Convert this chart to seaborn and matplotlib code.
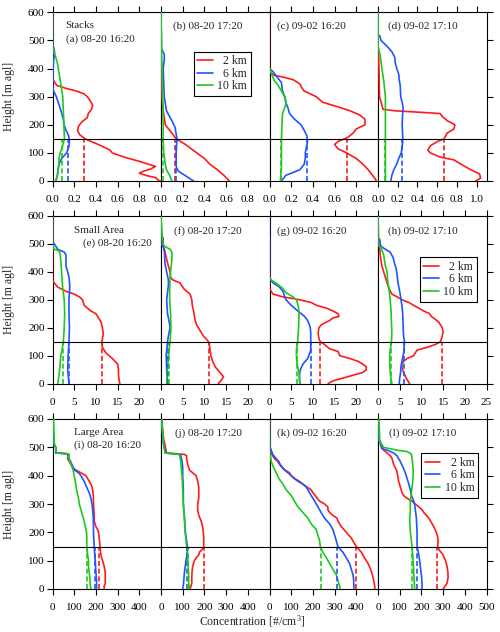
import matplotlib
matplotlib.use("Agg")
import matplotlib.pyplot as plt
from matplotlib.lines import Line2D
import pandas as pd
import seaborn as sns

# profiles: (height [m], concentration)
a_2km = [(600, 0), (365, 0), (350, 0.02), (340, 0.04), (330, 0.12), (320, 0.22), (310, 0.29), (300, 0.32),
         (290, 0.34), (270, 0.37), (255, 0.36), (240, 0.33), (225, 0.32), (210, 0.27), (195, 0.24), (180, 0.23),
         (165, 0.25), (150, 0.30), (140, 0.36), (125, 0.45), (110, 0.53), (100, 0.55), (85, 0.66), (70, 0.80),
         (60, 0.88), (52, 0.95), (42, 0.90), (35, 0.84), (28, 0.80), (20, 0.86), (12, 0.95), (5, 0.97), (0, 0.99)]
a_6km = [(600, 0), (490, 0), (475, 0.01), (455, 0.02), (430, 0.01), (390, 0.005), (340, 0), (320, 0.01),
         (300, 0.035), (260, 0.07), (220, 0.10), (200, 0.105), (180, 0.125), (160, 0.15), (140, 0.155),
         (120, 0.15), (100, 0.13), (80, 0.085), (60, 0.06), (40, 0.05), (20, 0.045), (0, 0.03)]
a_10km = [(600, 0), (480, 0), (460, 0.01), (440, 0.03), (420, 0.045), (400, 0.053), (350, 0.075), (300, 0.094),
          (250, 0.10), (200, 0.105), (150, 0.11), (120, 0.09), (100, 0.07), (80, 0.06), (50, 0.057), (20, 0.045),
          (0, 0.03)]
a_mean = [0.29, 0.14, 0.09]

b_2km = [(600, 0), (430, 0), (400, 0.005), (300, 0.01), (250, 0.02), (200, 0.04), (170, 0.10), (150, 0.14),
         (130, 0.225), (120, 0.26), (100, 0.33), (80, 0.40), (60, 0.45), (40, 0.52), (20, 0.58), (0, 0.63)]
b_6km = [(600, 0), (470, 0.005), (450, 0.03), (430, 0.03), (400, 0.02), (350, 0.025), (300, 0.03), (250, 0.05),
         (215, 0.10), (190, 0.13), (150, 0.147), (100, 0.14), (50, 0.14), (35, 0.16), (20, 0.22), (0, 0.30)]
b_10km = [(600, 0), (450, 0.005), (400, 0.01), (300, 0.015), (200, 0.02), (150, 0.02), (100, 0.025), (60, 0.04),
          (40, 0.05), (20, 0.08), (0, 0.10)]
b_mean = [0.13, 0.14, 0.02]

c_2km = [(600, 0), (395, 0), (385, 0.01), (375, 0.05), (370, 0.12), (360, 0.22), (345, 0.28), (330, 0.30),
         (320, 0.32), (300, 0.43), (280, 0.49), (265, 0.62), (250, 0.74), (235, 0.83), (220, 0.88), (200, 0.88),
         (185, 0.80), (170, 0.77), (155, 0.72), (140, 0.63), (130, 0.60), (115, 0.63), (100, 0.71), (80, 0.80),
         (60, 0.86), (40, 0.91), (20, 0.95), (5, 0.98), (0, 0.98)]
c_6km = [(400, 0), (390, 0.03), (375, 0.06), (350, 0.11), (320, 0.12), (300, 0.14), (280, 0.15),
         (260, 0.17), (240, 0.185), (220, 0.23), (200, 0.29), (180, 0.32), (160, 0.345), (140, 0.35), (120, 0.34),
         (100, 0.33), (80, 0.33), (60, 0.32), (40, 0.28), (20, 0.15), (0, 0.11)]
c_10km = [(400, 0), (380, 0.02), (360, 0.04), (340, 0.08), (320, 0.11), (300, 0.14), (280, 0.155),
          (260, 0.14), (240, 0.12), (200, 0.115), (150, 0.11), (100, 0.11), (50, 0.11), (0, 0.10)]
c_mean = [0.71, 0.35, 0.11]

d_2km = [(600, 0), (480, 0), (460, 0.005), (400, 0.01), (300, 0.015), (270, 0.04), (255, 0.05), (250, 0.16),
         (245, 0.40), (240, 0.63), (230, 0.65), (215, 0.70), (200, 0.78), (185, 0.77), (170, 0.70), (150, 0.67),
         (140, 0.60), (125, 0.53), (110, 0.505), (100, 0.53), (85, 0.63), (75, 0.77), (60, 0.84), (40, 0.94),
         (25, 1.03), (10, 1.04), (0, 0.99)]
d_6km = [(600, 0), (520, 0), (515, 0.02), (500, 0.03), (490, 0.06), (480, 0.09), (460, 0.14), (440, 0.17),
         (420, 0.175), (400, 0.19), (380, 0.21), (360, 0.215), (340, 0.225), (300, 0.23), (280, 0.245),
         (260, 0.255), (240, 0.25), (200, 0.245), (160, 0.25), (140, 0.25), (120, 0.245), (100, 0.235),
         (80, 0.21), (60, 0.19), (40, 0.16), (20, 0.14), (0, 0.13)]
d_10km = [(600, 0), (480, 0), (450, 0.02), (400, 0.04), (350, 0.06), (300, 0.075), (250, 0.075), (150, 0.075),
          (50, 0.075), (0, 0.075)]
d_mean = [0.67, 0.245, 0.075]

e_2km = [(600, 0), (370, 0), (360, 0.4), (345, 1.2), (330, 3.1), (320, 5.0), (310, 6.2), (300, 6.9), (280, 7.3),
         (260, 8.8), (250, 10.0), (240, 10.4), (220, 11.2), (200, 11.5), (180, 11.7), (160, 11.5), (150, 11.4),
         (130, 11.5), (110, 12.3), (90, 13.8), (70, 15.0), (50, 15.2), (30, 15.2), (10, 15.4), (0, 15.5)]
e_6km = [(600, 0), (505, 0), (500, 0.4), (480, 1.2), (470, 2.7), (460, 3.1), (420, 3.1), (400, 3.5), (380, 3.8),
         (350, 4.0), (300, 3.8), (250, 3.8), (200, 3.9), (150, 3.8), (100, 3.6), (50, 3.5), (0, 3.8)]
e_10km = [(600, 0), (500, 0), (480, 0.4), (475, 1.5), (460, 1.8), (400, 2.1), (350, 2.3), (300, 2.7), (250, 2.8),
          (200, 2.7), (150, 2.5), (120, 2.2), (100, 1.9), (60, 1.7), (30, 1.5), (0, 1.2)]
e_mean = [11.4, 3.8, 2.5]

f_2km = [(600, 0), (530, 0), (520, 0.5), (490, 0.5), (480, 0.8), (450, 1.2), (420, 1.7), (400, 2.1), (380, 2.2),
         (370, 2.8), (360, 4.4), (350, 4.8), (340, 5.2), (320, 6.7), (300, 7.1), (280, 7.2), (260, 7.5),
         (230, 7.8), (210, 8.2), (190, 9.0), (170, 9.8), (155, 10.7), (145, 11.1), (120, 11.3), (100, 11.5),
         (80, 11.9), (60, 12.5), (40, 13.6), (25, 14.4), (15, 14.0), (0, 13.2)]
f_6km = [(600, 0), (500, 0), (490, 0.5), (470, 0.8), (430, 0.9), (400, 1.3), (370, 1.7), (350, 1.7), (300, 1.3),
         (250, 1.5), (220, 1.9), (200, 2.1), (170, 1.7), (150, 1.5), (100, 1.2), (50, 1.3), (0, 1.5)]
f_10km = [(600, 0), (500, 0.4), (490, 0.9), (480, 2.1), (470, 2.5), (440, 2.5), (400, 2.2), (350, 2.0),
          (300, 2.0), (250, 2.2), (200, 2.3), (150, 2.1), (100, 1.7), (50, 1.5), (0, 1.3)]
f_mean = [11.0, 1.5, 1.9]

g_2km = [(520, 0), (340, 0), (330, 0.4), (320, 0.8), (310, 3.1), (300, 6.9), (290, 9.6), (280, 10.8),
         (270, 13.1), (260, 14.6), (250, 15.8), (240, 16.0), (235, 14.6), (225, 13.8), (220, 13.1), (210, 11.9),
         (200, 11.4), (180, 11.2), (160, 11.4), (150, 11.7), (140, 12.7), (125, 13.8), (115, 15.8), (100, 16.2),
         (90, 18.5), (80, 20.4), (70, 21.5), (60, 22.3), (50, 22.3), (40, 21.5), (30, 19.2), (20, 16.9),
         (10, 14.6), (0, 13.5)]
g_6km = [(600, 0), (520, 0), (380, 0), (360, 0.8), (345, 2.3), (330, 3.1), (310, 3.5), (300, 3.8), (280, 5.0),
         (260, 6.5), (240, 8.1), (225, 8.8), (210, 9.2), (200, 9.4), (180, 9.5), (150, 9.5), (120, 9.5), (90, 8.8),
         (70, 7.7), (50, 7.1), (30, 6.9), (10, 6.9), (0, 7.1)]
g_10km = [(380, 0), (370, 0.4), (360, 1.5), (350, 2.3), (340, 3.1), (325, 3.8), (310, 5.4), (300, 6.2),
          (290, 6.4), (270, 6.7), (250, 6.8), (200, 6.7), (150, 6.5), (120, 6.2), (100, 6.2), (80, 6.3),
          (60, 6.5), (40, 6.8), (20, 6.9), (0, 7.1)]
g_mean = [11.7, 9.5, 6.4]

h_2km = [(600, 0), (500, 0.15), (480, 0.4), (460, 0.5), (440, 0.7), (420, 0.9), (400, 1.3), (380, 1.7),
         (360, 2.1), (340, 2.5), (320, 3.2), (310, 4.4), (300, 5.5), (290, 7.1), (280, 8.2), (270, 9.4),
         (260, 10.5), (250, 11.9), (240, 12.3), (230, 13.2), (220, 14.0), (200, 14.8), (185, 15.0), (170, 14.8),
         (150, 14.4), (140, 13.2), (130, 11.3), (120, 9.0), (110, 8.6), (100, 8.2), (90, 6.7), (80, 5.9),
         (70, 5.5), (60, 5.5), (40, 5.9), (20, 6.5), (0, 7.3)]
h_6km = [(600, 0), (520, 0), (515, 0.4), (500, 0.5), (490, 0.7), (480, 1.7), (470, 2.8), (450, 3.5), (430, 3.8),
         (410, 4.2), (390, 4.4), (360, 4.6), (330, 5.0), (300, 5.3), (280, 5.5), (250, 5.7), (200, 5.8),
         (170, 5.9), (150, 6.1), (120, 6.0), (100, 5.8), (80, 5.5), (60, 5.3), (40, 5.2), (20, 5.0), (0, 4.9)]
h_10km = [(600, 0), (500, 0), (490, 0.4), (480, 0.8), (460, 1.3), (440, 1.5), (420, 1.7), (400, 2.1), (370, 2.2),
          (340, 2.5), (300, 2.8), (260, 3.0), (220, 3.1), (180, 3.2), (150, 3.1), (120, 2.8), (100, 2.7),
          (70, 2.7), (40, 2.8), (20, 3.0), (0, 3.2)]
h_mean = [14.7, 6.0, 3.0]

i_2km = [(600, 2), (520, 4), (510, 5), (500, 15), (480, 18), (478, 62), (475, 77), (460, 69), (450, 77),
         (440, 85), (430, 92), (420, 108), (410, 131), (400, 154), (390, 162), (380, 169), (370, 177), (360, 182),
         (350, 185), (330, 188), (300, 189), (260, 192), (240, 192), (220, 200), (210, 208), (200, 212),
         (180, 215), (160, 218), (140, 220), (120, 223), (100, 231), (80, 238), (60, 243), (40, 243), (20, 243),
         (10, 238), (0, 238)]
i_6km = [(600, 2), (520, 4), (510, 5), (500, 15), (480, 15), (478, 55), (475, 69), (460, 77), (440, 89),
         (420, 100), (410, 120), (400, 131), (380, 146), (360, 157), (340, 169), (320, 177), (300, 182),
         (280, 185), (250, 188), (200, 189), (150, 192), (100, 197), (60, 200), (30, 203), (0, 203)]
i_10km = [(600, 5), (520, 8), (510, 10), (500, 15), (480, 18), (478, 62), (475, 77), (460, 74), (440, 85),
          (420, 95), (400, 100), (380, 105), (350, 111), (320, 120), (300, 123), (280, 131), (260, 138),
          (240, 146), (220, 151), (200, 157), (180, 158), (150, 158), (120, 162), (100, 166), (80, 166),
          (60, 169), (40, 172), (20, 173), (0, 177)]
i_mean = [215, 194, 158]

j_2km = [(600, 3), (560, 8), (530, 12), (510, 18), (490, 23), (480, 25), (475, 108), (470, 118), (460, 118),
         (440, 123), (420, 131), (410, 146), (400, 162), (380, 169), (360, 174), (340, 174), (320, 174),
         (300, 169), (280, 169), (260, 174), (240, 185), (220, 192), (200, 195), (180, 197), (160, 197),
         (145, 197), (130, 177), (120, 174), (110, 162), (100, 154), (80, 146), (60, 143), (40, 142), (20, 142),
         (0, 134)]
j_6km = [(600, 2), (560, 6), (510, 12), (490, 18), (480, 23), (475, 85), (470, 92), (450, 97), (430, 100),
         (400, 100), (350, 103), (300, 103), (250, 108), (200, 112), (160, 120), (140, 123), (120, 120),
         (100, 115), (80, 112), (60, 108), (40, 106), (20, 104), (0, 100)]
j_10km = [(600, 2), (560, 6), (510, 12), (490, 16), (480, 18), (475, 85), (460, 89), (440, 92), (400, 97),
          (350, 100), (300, 103), (250, 108), (200, 112), (150, 118), (120, 123), (100, 123), (70, 126),
          (40, 128), (20, 128), (0, 131)]
j_mean = [197, 120, 123]

k_2km = [(600, 0), (490, 0), (480, 8), (470, 15), (460, 23), (450, 38), (440, 46), (425, 62), (410, 92),
         (400, 100), (390, 115), (380, 138), (370, 154), (360, 172), (350, 192), (340, 200), (325, 215),
         (310, 231), (300, 254), (290, 269), (280, 269), (270, 277), (260, 292), (250, 311), (240, 315),
         (220, 331), (200, 354), (180, 377), (160, 392), (150, 400), (130, 423), (110, 438), (90, 454),
         (70, 466), (50, 474), (30, 480), (10, 485), (0, 485)]
k_6km = [(600, 0), (520, 0), (500, 3), (490, 8), (475, 15), (460, 31), (450, 43), (440, 49), (420, 69),
         (410, 85), (400, 100), (390, 115), (380, 131), (370, 154), (360, 169), (350, 177), (330, 192),
         (310, 208), (290, 223), (270, 238), (250, 254), (230, 277), (210, 292), (190, 300), (170, 308),
         (150, 315), (130, 338), (110, 354), (90, 369), (70, 377), (50, 385), (30, 388), (10, 389), (0, 389)]
k_10km = [(600, 0), (480, 0), (470, 5), (450, 8), (430, 18), (410, 31), (390, 43), (370, 62), (350, 77),
          (330, 100), (310, 115), (290, 131), (270, 154), (250, 177), (230, 192), (210, 215), (190, 223),
          (170, 231), (150, 234), (130, 246), (110, 262), (90, 277), (70, 292), (50, 308), (30, 315), (10, 323),
          (0, 326)]
k_mean = [397, 313, 237]

l_2km = [(600, 0), (530, 5), (520, 11), (510, 14), (500, 18), (490, 26), (480, 42), (470, 57), (460, 65),
         (440, 72), (420, 85), (400, 91), (380, 95), (360, 103), (340, 111), (330, 118), (320, 134), (310, 157),
         (300, 172), (290, 188), (280, 203), (270, 211), (260, 223), (250, 234), (240, 242), (220, 257),
         (200, 269), (185, 275), (170, 277), (150, 275), (140, 280), (120, 300), (100, 311), (80, 318),
         (60, 322), (40, 323), (20, 318), (0, 300)]
l_6km = [(600, 0), (525, 0), (520, 8), (505, 14), (495, 18), (490, 42), (480, 72), (470, 88), (460, 95),
         (450, 103), (430, 115), (410, 126), (390, 134), (370, 142), (350, 149), (330, 154), (310, 165),
         (300, 168), (280, 172), (250, 177), (200, 180), (150, 180), (120, 188), (100, 192), (80, 195),
         (50, 200), (20, 203), (0, 203)]
l_10km = [(600, 3), (590, 5), (520, 8), (510, 18), (500, 26), (490, 88), (485, 134), (480, 146), (475, 154),
          (460, 157), (440, 160), (420, 162), (400, 162), (380, 160), (360, 157), (340, 154), (310, 149),
          (280, 149), (250, 146), (200, 149), (150, 157), (100, 162), (50, 165), (0, 169)]
l_mean = [272, 180, 158]

ranges = ["2 km", "6 km", "10 km"]
colors = ["#ff1a1a", "#1f55ff", "#1ec81e"]
row_names = ["Stacks", "Small Area", "Large Area"]
panel_labels = ["(a) 08-20 16:20", "(b) 08-20 17:20", "(c) 09-02 16:20", "(d) 09-02 17:10",
                "(e) 08-20 16:20", "(f) 08-20 17:20", "(g) 09-02 16:20", "(h) 09-02 17:10",
                "(i) 08-20 16:20", "(j) 08-20 17:20", "(k) 09-02 16:20", "(l) 09-02 17:10"]
row_xmax = [[1.0, 1.0, 1.0, 1.1], [25, 25, 25, 25], [500, 500, 500, 500]]
row_ticks = [[0, 0.2, 0.4, 0.6, 0.8, 1.0], [0, 5, 10, 15, 20, 25], [0, 100, 200, 300, 400, 500]]
row_fmt = ["{:.1f}", "{:d}", "{:d}"]

panels = [
    (a_2km, a_6km, a_10km, a_mean), (b_2km, b_6km, b_10km, b_mean),
    (c_2km, c_6km, c_10km, c_mean), (d_2km, d_6km, d_10km, d_mean),
    (e_2km, e_6km, e_10km, e_mean), (f_2km, f_6km, f_10km, f_mean),
    (g_2km, g_6km, g_10km, g_mean), (h_2km, h_6km, h_10km, h_mean),
    (i_2km, i_6km, i_10km, i_mean), (j_2km, j_6km, j_10km, j_mean),
    (k_2km, k_6km, k_10km, k_mean), (l_2km, l_6km, l_10km, l_mean),
]

# label positions inside each panel (axes fraction)
label_xy = [(0.122, 0.842), (0.108, 0.919), (0.072, 0.919), (0.095, 0.919),
            (0.278, 0.836), (0.12, 0.909), (0.066, 0.909), (0.095, 0.909),
            (0.198, 0.847), (0.129, 0.919), (0.066, 0.915), (0.104, 0.915)]
name_xy = [(0.122, 0.919), (0.198, 0.909), (0.198, 0.919)]
legend_at = {1: (0.827, 0.766), 7: (0.91, 0.752), 11: (0.924, 0.798)}

sns.set_style("ticks")
plt.rcParams["font.family"] = ["Liberation Serif", "DejaVu Serif"]
plt.rcParams["mathtext.default"] = "regular"
plt.rcParams["axes.linewidth"] = 0.8

fig = plt.figure(figsize=(5, 6.32), dpi=100)
W, H = 500, 632
rows_px = [(12.3, 181.0), (215.7, 383.7), (419.0, 589.0)]
left_px, col_w = 52.5, 108.5

for idx, (p2, p6, p10, means) in enumerate(panels):
    r, c = divmod(idx, 4)
    top, bot = rows_px[r]
    ax = fig.add_axes([(left_px + c * col_w) / W, 1 - bot / H, col_w / W, (bot - top) / H])

    df = pd.concat([
        pd.DataFrame(prof, columns=["height", "conc"]).assign(range=name)
        for prof, name in zip((p2, p6, p10), ranges)
    ])
    sns.lineplot(data=df, x="conc", y="height", hue="range", hue_order=ranges, palette=colors,
                 sort=False, estimator=None, lw=1.2, legend=False, ax=ax, zorder=3)
    ax.vlines(means, 0, 150, colors=colors, linestyles=[(0, (3, 1.6))], lw=1.2, zorder=3)
    ax.axhline(150, color="k", lw=0.8, zorder=4)

    xmax = row_xmax[r][c]
    ticks = [t for t in row_ticks[r] if t < xmax - 1e-9 or c == 3]
    ticks = [t for t in ticks if t <= xmax]
    ax.set_xlim(0, xmax)
    ax.set_ylim(0, 600)
    ax.set_xticks(ticks)
    ax.set_xticklabels([row_fmt[r].format(t) for t in ticks])
    ax.set_yticks(range(0, 601, 100))
    ax.set_xlabel("")
    ax.set_ylabel("")
    for s in ax.spines.values():
        s.set_color("black")
        s.set_linewidth(0.8)
    ax.tick_params(axis="both", direction="out", length=4, width=0.8, color="black",
                   labelsize=8, labelcolor="black")
    ax.tick_params(axis="x", top=True, bottom=True, labeltop=False, pad=6)
    ax.tick_params(axis="y", left=(c == 0), labelleft=(c == 0), right=(c == 3),
                   labelright=False, pad=1.7)

    lx, ly = label_xy[idx]
    ax.text(lx, ly, panel_labels[idx], transform=ax.transAxes, fontsize=8, ha="left", va="center")
    if c == 0:
        nx, ny = name_xy[r]
        ax.text(nx, ny, row_names[r], transform=ax.transAxes, fontsize=8, ha="left", va="center")

    if idx in legend_at:
        handles = [Line2D([], [], color=col, lw=1.2) for col in colors]
        leg = ax.legend(handles, ["  2 km", "  6 km", "10 km"], loc="upper right",
                        bbox_to_anchor=legend_at[idx], fontsize=8.5, frameon=True, fancybox=False,
                        edgecolor="black", framealpha=1, handlelength=1.3, handletextpad=0.4,
                        labelspacing=0.05, borderpad=0.3, borderaxespad=0)
        leg.get_frame().set_linewidth(0.8)
        leg.set_zorder(5)

for r, (top, bot) in enumerate(rows_px):
    fig.text(0.019, 1 - (top + bot) / 2 / H, "Height [m agl]", rotation=90, ha="center", va="center",
             fontsize=8.5)
fig.text(0.505, 0.0163, "Concentration [#/cm$^3$]", ha="center", va="center", fontsize=8.5)

fig.savefig("out.png", dpi=100)
